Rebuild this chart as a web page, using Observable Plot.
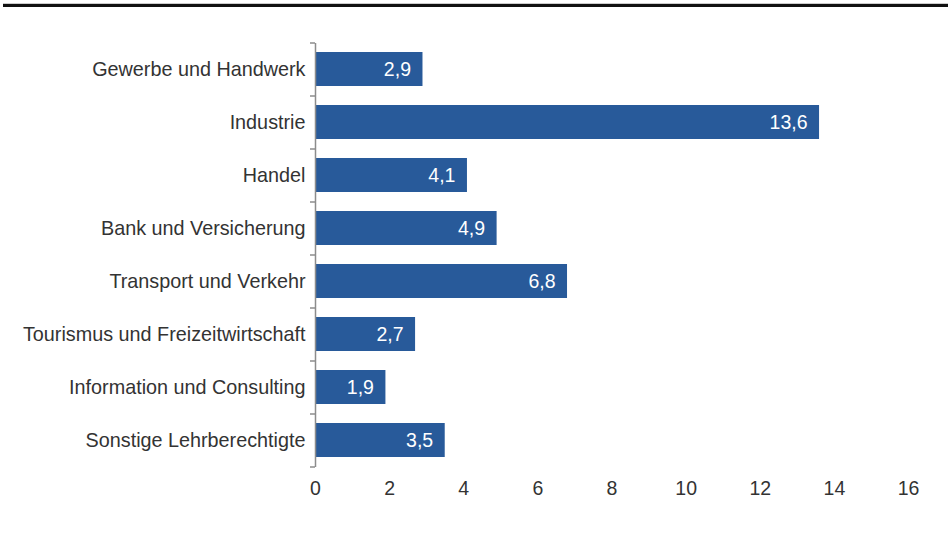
<!DOCTYPE html>
<html>
<head>
<meta charset="utf-8">
<script src="https://cdn.jsdelivr.net/npm/d3@7"></script>
<script src="https://cdn.jsdelivr.net/npm/@observablehq/plot@0.6"></script>
<style>
  html, body { margin: 0; padding: 0; background: #fff; }
  #wrap { position: relative; width: 948px; height: 538px; }
  #topline { position: absolute; top: 3px; left: 3px; right: 0; height: 3px; background: #111; border-top: 1px solid #ccc; }
  #chart { position: absolute; top: 0; left: 0; }
</style>
</head>
<body>
<div id="wrap">
  <div id="chart"></div>
  <div id="topline"></div>
</div>
<script>
const categories = [
  "Gewerbe und Handwerk",
  "Industrie",
  "Handel",
  "Bank und Versicherung",
  "Transport und Verkehr",
  "Tourismus und Freizeitwirtschaft",
  "Information und Consulting",
  "Sonstige Lehrberechtigte"
];
const values = [2.9, 13.6, 4.1, 4.9, 6.8, 2.7, 1.9, 3.5];
const xTicks = [0, 2, 4, 6, 8, 10, 12, 14, 16];

const data = categories.map((c, i) => ({category: c, value: values[i]}));

const W = 948, H = 538;
const mTop = 43, mBottom = 71, mLeft = 315, mRight = 40;
const step = (H - mTop - mBottom) / categories.length;
const fmt = v => v.toFixed(1).replace(".", ",");
const font = "'Liberation Sans', Arial, sans-serif";

const chart = Plot.plot({
  width: W,
  height: H,
  marginTop: mTop,
  marginBottom: mBottom,
  marginLeft: mLeft,
  marginRight: mRight,
  style: {fontFamily: font, fontSize: "19.8px", color: "#333", background: "#fff"},
  x: {domain: [0, 16], ticks: xTicks, label: null},
  y: {domain: categories, paddingInner: 0.355, paddingOuter: 0.1775, label: null},
  marks: [
    Plot.barX(data, {x: "value", y: "category", fill: "#285a9a"}),
    Plot.text(data, {x: "value", y: "category", text: d => fmt(d.value), textAnchor: "end", dx: -12, fill: "#fff", fontSize: 19.5}),
    Plot.ruleX([0], {stroke: "#8c8c8c", strokeWidth: 1.5}),
    Plot.ruleY(categories, {y: d => d, x1: 0, x2: 0, insetLeft: -5, dy: -step / 2, stroke: "#8c8c8c", strokeWidth: 1.5}),
    Plot.ruleY(categories.slice(-1), {y: d => d, x1: 0, x2: 0, insetLeft: -5, dy: step / 2, stroke: "#8c8c8c", strokeWidth: 1.5}),
    Plot.axisY({tickSize: 0, tickPadding: 10, label: null, fontSize: 19.8}),
    Plot.axisX({ticks: xTicks, tickSize: 0, tickPadding: 14, label: null, fontSize: 19.5})
  ]
});
document.getElementById("chart").appendChild(chart);
</script>
</body>
</html>
